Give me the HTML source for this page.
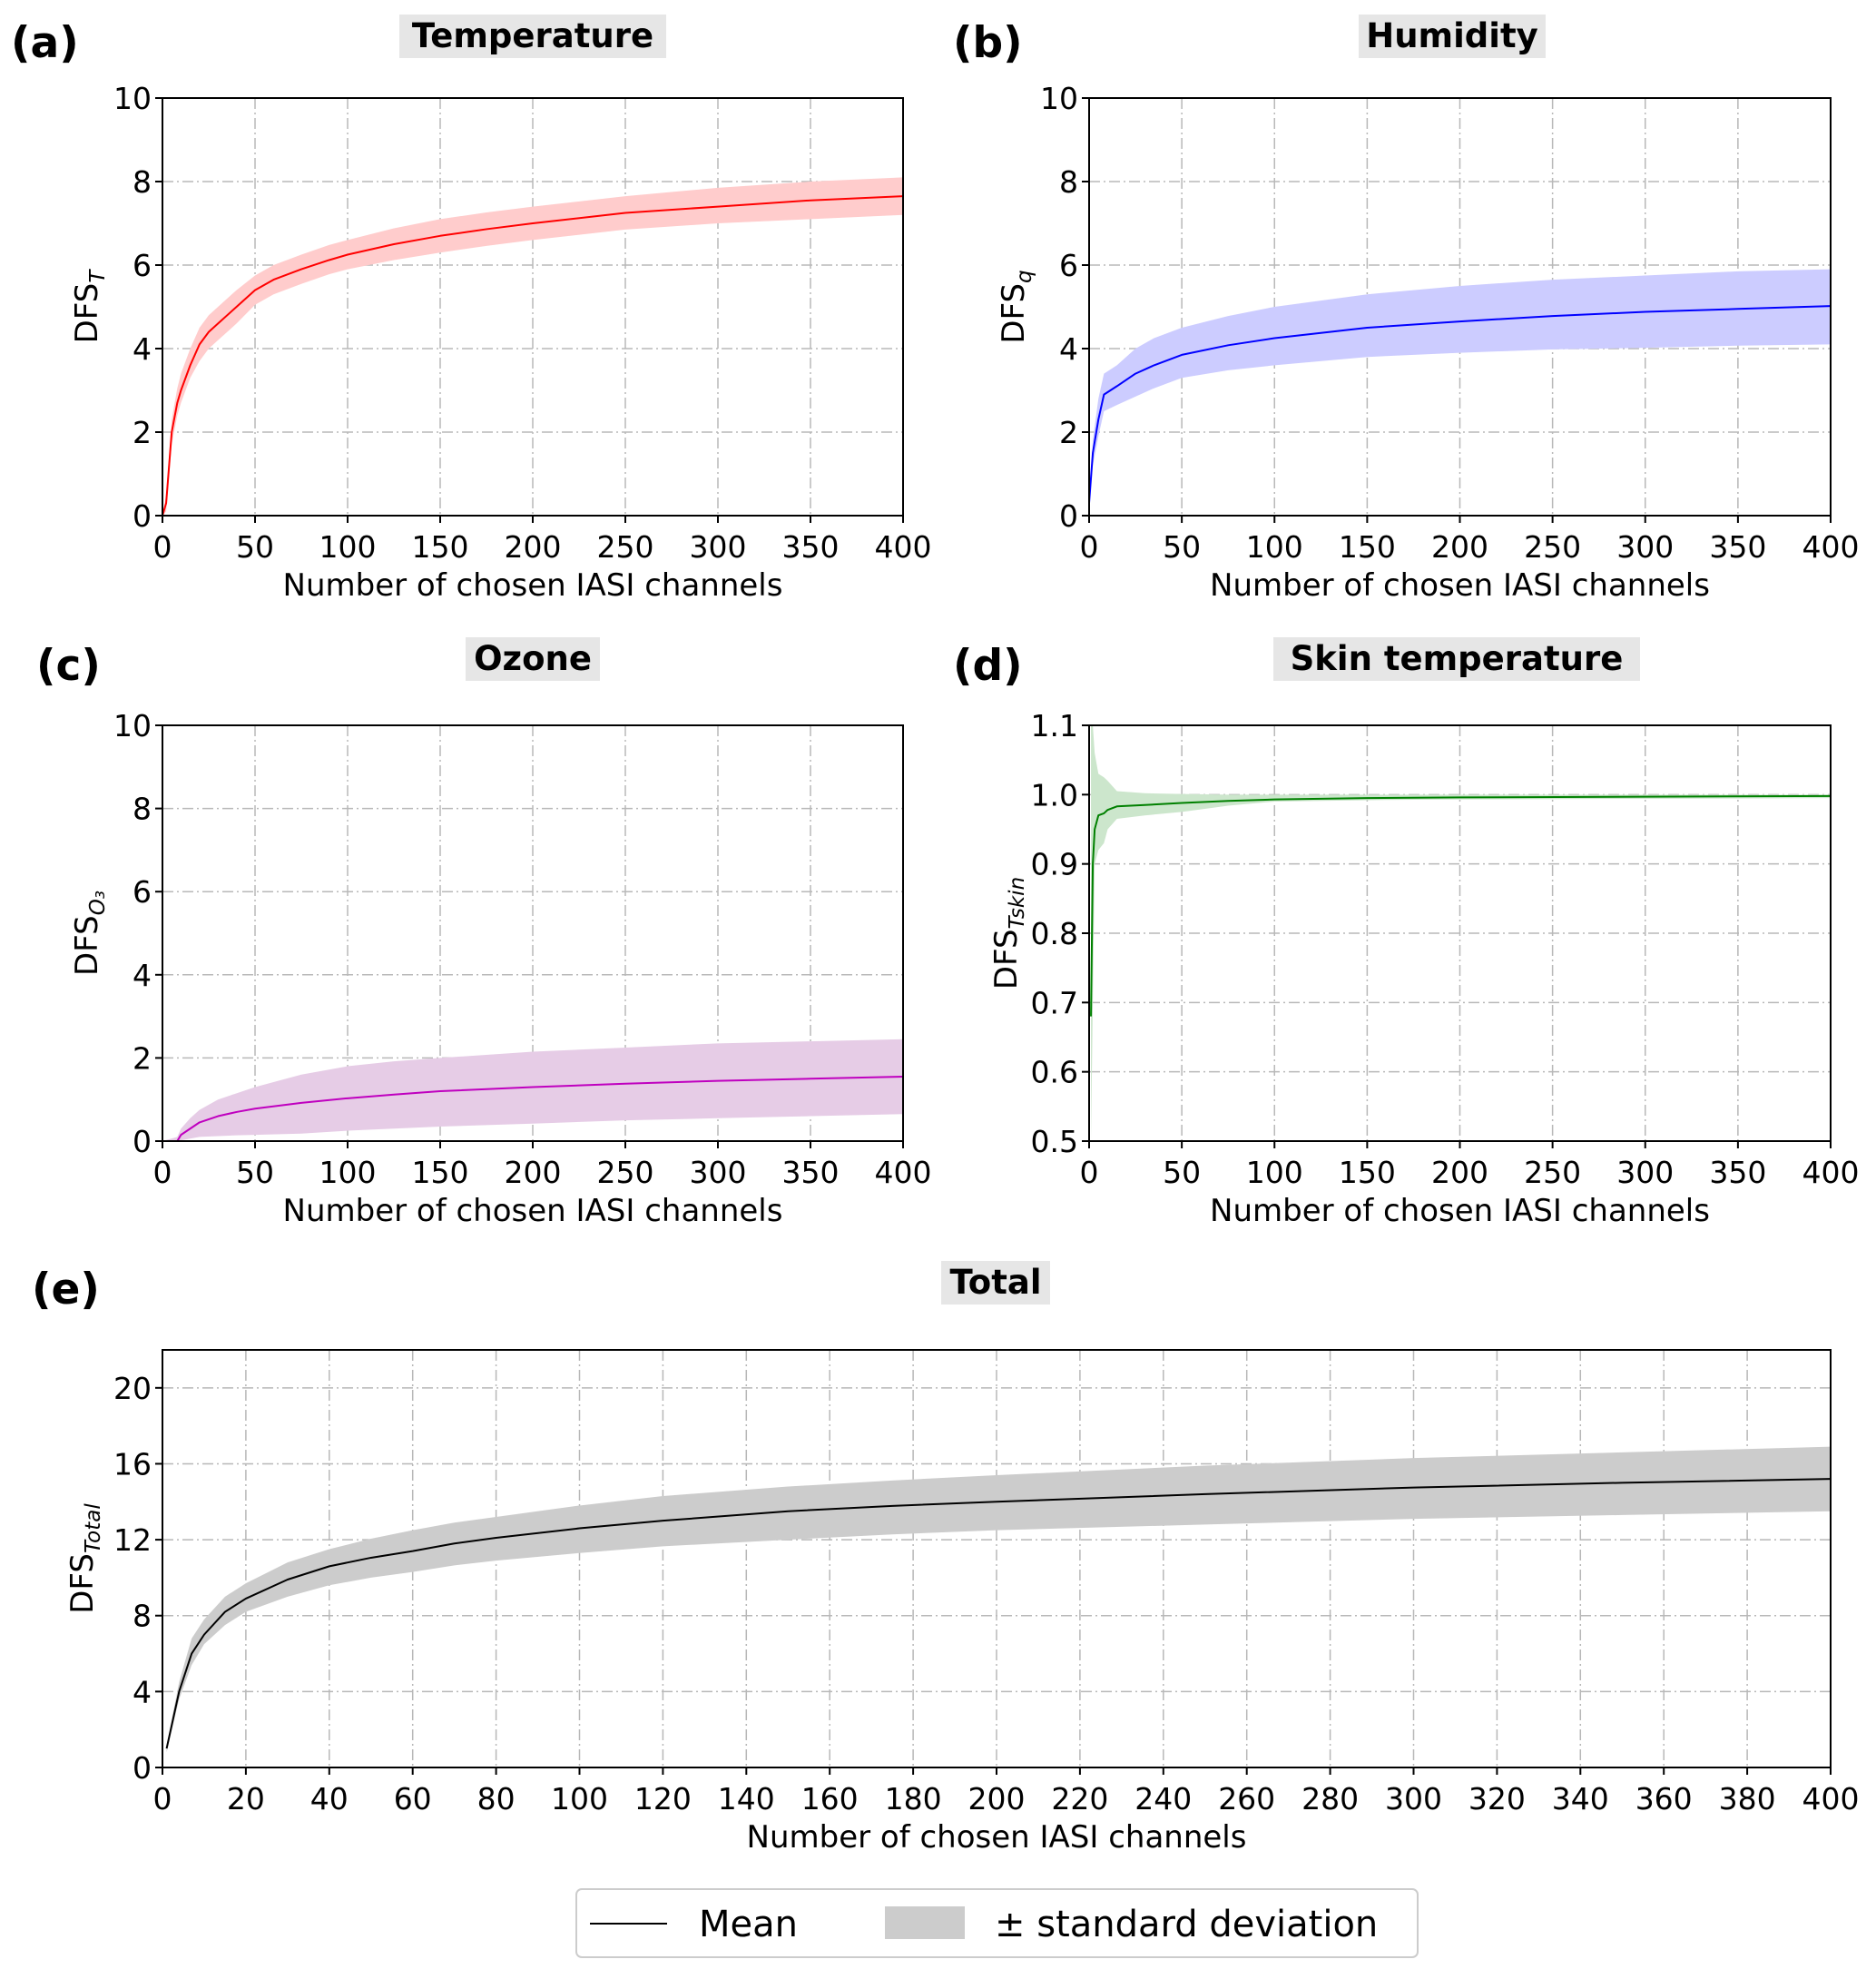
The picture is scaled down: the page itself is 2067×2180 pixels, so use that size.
<!DOCTYPE html>
<html><head><meta charset="utf-8"><style>
body{margin:0;background:#fff}
svg text{font-family:"DejaVu Sans","Liberation Sans",sans-serif}
</style></head><body>
<svg id="fig" width="2067" height="2175" viewBox="0 0 2067 2175" xmlns="http://www.w3.org/2000/svg"></svg>
<script>
// Panel (a) Temperature
const aX=[0,2,5,8,10,15,20,25,30,40,50,60,75,90,100,125,150,175,200,250,300,350,400];
const aMean=[0,0.3,2,2.7,3,3.6,4.1,4.4,4.6,5.0,5.4,5.65,5.9,6.12,6.25,6.5,6.7,6.86,7.0,7.25,7.4,7.55,7.65];
const aUp=[0,0.5,2.3,3.05,3.4,4.0,4.5,4.8,5.0,5.4,5.75,6.0,6.25,6.48,6.6,6.88,7.1,7.26,7.4,7.65,7.85,8.0,8.1];
const aLo=[0,0.1,1.7,2.4,2.7,3.3,3.7,4.0,4.2,4.6,5.05,5.3,5.55,5.78,5.9,6.12,6.3,6.46,6.6,6.85,7.0,7.1,7.2];
// Panel (b) Humidity
const bX=[0,2,5,8,15,25,35,50,75,100,150,200,250,300,350,400];
const bMean=[0.3,1.5,2.3,2.9,3.1,3.4,3.6,3.85,4.08,4.25,4.5,4.65,4.78,4.88,4.95,5.02];
const bUp=[0.35,1.8,2.8,3.4,3.6,4.0,4.25,4.5,4.78,5.0,5.3,5.5,5.65,5.75,5.85,5.9];
const bLo=[0.25,1.2,1.9,2.5,2.65,2.85,3.05,3.3,3.48,3.6,3.8,3.9,3.98,4.02,4.07,4.1];
// Panel (c) Ozone
const cX=[0,8,10,15,20,30,40,50,75,100,125,150,200,250,300,350,400];
const cMean=[0,0,0.15,0.3,0.45,0.6,0.7,0.78,0.92,1.03,1.12,1.2,1.3,1.38,1.45,1.5,1.55];
const cUp=[0,0.1,0.3,0.55,0.75,1.0,1.15,1.3,1.6,1.8,1.92,2.0,2.15,2.25,2.35,2.4,2.45];
const cLo=[0,0,0.02,0.06,0.1,0.12,0.14,0.15,0.18,0.25,0.3,0.35,0.42,0.5,0.55,0.6,0.65];
// Panel (d) Skin temperature
const dX=[1,2,3,5,8,10,15,30,50,75,100,150,200,400];
const dMean=[0.68,0.9,0.95,0.97,0.973,0.978,0.983,0.985,0.988,0.991,0.993,0.995,0.996,0.998];
const dUp=[1.1,1.1,1.06,1.03,1.025,1.02,1.005,1.002,1.001,1.0,1.0,1.0,1.0,1.0];
const dLo=[0.5,0.7,0.9,0.92,0.93,0.95,0.965,0.97,0.975,0.984,0.99,0.992,0.993,0.995];
// Panel (e) Total
const eX=[1,4,7,10,15,20,30,40,50,60,70,80,100,120,150,175,200,250,300,350,400];
const eMean=[1,4,6,7,8.2,8.9,9.9,10.6,11.05,11.4,11.8,12.1,12.6,13.0,13.5,13.78,14.0,14.4,14.75,15.0,15.2];
const eUp=[1.2,4.5,6.8,7.8,9.0,9.7,10.8,11.5,12.05,12.5,12.9,13.2,13.8,14.3,14.8,15.12,15.4,15.9,16.3,16.6,16.9];
const eLo=[0.8,3.6,5.4,6.5,7.5,8.2,9.0,9.6,10.0,10.3,10.65,10.9,11.3,11.65,12.0,12.28,12.5,12.8,13.1,13.3,13.5];
const ticks10=[0,2,4,6,8,10];
const xTicks50=[0,50,100,150,200,250,300,350,400];
const dTicks=[0.5,0.6,0.7,0.8,0.9,1.0,1.1];
const eYTicks=[0,4,8,12,16,20];
const eXTicks=[0,20,40,60,80,100,120,140,160,180,200,220,240,260,280,300,320,340,360,380,400];

const NS="http://www.w3.org/2000/svg";
const svg=document.getElementById('fig');
function mk(tag,attrs,parent,text){const e=document.createElementNS(NS,tag);for(const k in attrs)e.setAttribute(k,attrs[k]);if(text!==undefined)e.textContent=text;(parent||svg).appendChild(e);return e;}

function panel(o){
  const g=mk('g',{});
  
  
  const sx=v=>o.x0+(v-o.xmin)/(o.xmax-o.xmin)*(o.x1-o.x0);
  const sy=v=>o.y1-(v-o.ymin)/(o.ymax-o.ymin)*(o.y1-o.y0);
  const cp=mk('clipPath',{id:'cp'+o.id},g);
  mk('rect',{x:o.x0,y:o.y0,width:o.x1-o.x0,height:o.y1-o.y0},cp);
  o.xt.forEach(t=>{const l=mk('line',{x1:sx(t),x2:sx(t),y1:o.y0,y2:o.y1,stroke:'#b8b8b8','stroke-width':1.5,'stroke-dasharray':'12,4,2,4'},g);
    });
  o.yt.forEach(t=>{const l=mk('line',{x1:o.x0,x2:o.x1,y1:sy(t),y2:sy(t),stroke:'#b8b8b8','stroke-width':1.5,'stroke-dasharray':'12,4,2,4'},g);
    });
  let d='M'+o.X.map((x,i)=>sx(x)+','+sy(o.up[i])).join('L');
  for(let i=o.X.length-1;i>=0;i--)d+='L'+sx(o.X[i])+','+sy(o.lo[i]);
  const band=mk('path',{d:d+'Z',fill:o.band,stroke:'none','clip-path':'url(#cp'+o.id+')'},g);
  
  const line=mk('polyline',{points:o.X.map((x,i)=>sx(x)+','+sy(o.mean[i])).join(' '),fill:'none',stroke:o.color,'stroke-width':2,'stroke-linejoin':'round','clip-path':'url(#cp'+o.id+')'},g);
  
  const fr=mk('rect',{x:o.x0,y:o.y0,width:o.x1-o.x0,height:o.y1-o.y0,fill:'none',stroke:'#000','stroke-width':2},g);
  
  o.xt.forEach(t=>{mk('line',{x1:sx(t),x2:sx(t),y1:o.y1,y2:o.y1+8,stroke:'#000','stroke-width':2},g);
    const tx=mk('text',{x:sx(t),y:o.y1+46,'font-size':o.fs,'text-anchor':'middle'},g,String(t));
    });
  o.yt.forEach(t=>{mk('line',{x1:o.x0-8,x2:o.x0,y1:sy(t),y2:sy(t),stroke:'#000','stroke-width':2},g);
    const tx=mk('text',{x:o.x0-12,y:sy(t)+12,'font-size':o.fs,'text-anchor':'end'},g,o.yfmt?o.yfmt(t):String(t));
    });
  const xl=mk('text',{x:(o.x0+o.x1)/2,y:o.y1+88,'font-size':34,'text-anchor':'middle'},g,'Number of chosen IASI channels');
  
  const yl=mk('text',{transform:'translate('+(o.x0-o.ylOff)+','+((o.y0+o.y1)/2)+') rotate(-90)','font-size':34,'text-anchor':'middle'},g);
  
  mk('tspan',{},yl,'DFS');
  mk('tspan',{'font-size':23,'font-style':'italic',dy:8},yl,o.sub);
  const tb=mk('rect',{x:o.tx-o.tw/2,y:o.ty-31,width:o.tw,height:48,fill:'#e6e6e6'},g);
  
  const ti=mk('text',{x:o.tx,y:o.ty+5,'font-size':37,'font-weight':'bold','text-anchor':'middle'},g,o.title);
  
  const lb=mk('text',{x:o.lx,y:o.ty+16,'font-size':47,'font-weight':'bold'},g,'('+o.id+')');
  
}
panel({id:'a',x0:179,x1:995,y0:108,y1:568,xmin:0,xmax:400,ymin:0,ymax:10,xt:xTicks50,yt:ticks10,X:aX,mean:aMean,up:aUp,lo:aLo,color:'#ff0000',band:'#ffcccc',sub:'T',title:'Temperature',tx:587,tw:294,ty:47,lx:12,fs:33,ylOff:72});
panel({id:'b',x0:1200,x1:2017,y0:108,y1:568,xmin:0,xmax:400,ymin:0,ymax:10,xt:xTicks50,yt:ticks10,X:bX,mean:bMean,up:bUp,lo:bLo,color:'#0000ff',band:'#ccccff',sub:'q',title:'Humidity',tx:1600,tw:206,ty:47,lx:1050,fs:33,ylOff:72});
panel({id:'c',x0:179,x1:995,y0:799,y1:1257,xmin:0,xmax:400,ymin:0,ymax:10,xt:xTicks50,yt:ticks10,X:cX,mean:cMean,up:cUp,lo:cLo,color:'#bf00bf',band:'#e6cce6',sub:'O₃',title:'Ozone',tx:587,tw:148,ty:733,lx:40,fs:33,ylOff:72});
panel({id:'d',x0:1200,x1:2017,y0:799,y1:1257,xmin:0,xmax:400,ymin:0.5,ymax:1.1,xt:xTicks50,yt:dTicks,X:dX,mean:dMean,up:dUp,lo:dLo,color:'#008000',band:'#cce6cc',sub:'Tskin',title:'Skin temperature',tx:1605,tw:404,ty:733,lx:1050,fs:33,ylOff:80,yfmt:t=>t.toFixed(1)});
panel({id:'e',x0:179,x1:2017,y0:1487,y1:1947,xmin:0,xmax:400,ymin:0,ymax:22,xt:eXTicks,yt:eYTicks,X:eX,mean:eMean,up:eUp,lo:eLo,color:'#000000',band:'#cccccc',sub:'Total',title:'Total',tx:1097,tw:120,ty:1420,lx:35,fs:33,ylOff:77});

const lg=mk('g',{});


mk('rect',{x:635,y:2081,width:927,height:75,rx:6,fill:'#fff',stroke:'#cccccc','stroke-width':2},lg);
const l1=mk('line',{x1:650,x2:735,y1:2119,y2:2119,stroke:'#000','stroke-width':2},lg);

const t1=mk('text',{x:770,y:2133,'font-size':40},lg,'Mean');

const s2=mk('rect',{x:975,y:2100,width:88,height:36,fill:'#cccccc'},lg);

const t2=mk('text',{x:1096,y:2133,'font-size':40},lg,'± standard deviation');

</script>
</body></html>
